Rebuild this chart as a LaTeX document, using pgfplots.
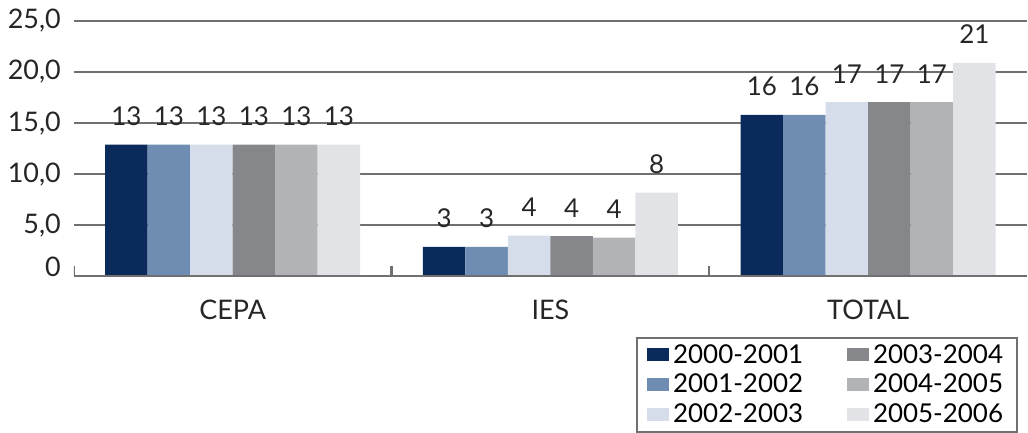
\documentclass[border=0pt]{standalone}
\usepackage{fontspec}
\setmainfont{Lato}
\usepackage{pgfplots}
\pgfplotsset{compat=1.18}

\definecolor{cA}{HTML}{0B2A5C}
\definecolor{cB}{HTML}{6F8DB3}
\definecolor{cC}{HTML}{D5DDEA}
\definecolor{cD}{HTML}{85878A}
\definecolor{cE}{HTML}{B1B3B6}
\definecolor{cF}{HTML}{E2E3E6}
\definecolor{gridc}{HTML}{707070}

\begin{document}
\begin{tikzpicture}
\begin{axis}[
  scale only axis,
  width=477.5pt, height=128pt,
  ybar=0pt, bar width=0.1338,
  xmin=-0.5, xmax=2.5, ymin=0, ymax=25,
  xtick={0,1,2}, xticklabels={CEPA,IES,TOTAL},
  ytick={0,5,10,15,20,25},
  yticklabels={\raisebox{10pt}{0},{5,0},{10,0},{15,0},{20,0},{25,0}},
  major tick length=0pt,
  axis line style={draw=none},
  ymajorgrids, grid style={gridc, line width=1pt},
  tick label style={font=\fontsize{13.5}{15}\selectfont, text=black!85},
  xticklabel style={yshift=-8pt},
  yticklabel style={xshift=-3pt},
  /pgf/number format/assume math mode=true,
  nodes near coords={\pgfmathprintnumber[fixed,precision=0]{\pgfplotspointmeta}},
  every node near coord/.append style={font=\fontsize{13}{15}\selectfont, text=black!85, yshift=6pt},
  legend columns=3, transpose legend,
  legend style={at={(axis description cs:0.9906,-0.238)}, anchor=north east,
    draw=gridc, line width=1pt, font=\fontsize{13}{15}\selectfont,
    inner xsep=5pt, inner ysep=1pt, row sep=0pt,
    /tikz/every even column/.append style={column sep=20pt}},
  legend image code/.code={\fill[#1] (0pt,-3pt) rectangle (11pt,3.5pt);},
  legend cell align=left,
]
\addplot[draw=none, fill=cA] coordinates {(0,12.9) (1,2.9) (2,15.8)};
\addlegendentry{2000-2001}
\addplot[draw=none, fill=cB] coordinates {(0,12.9) (1,2.9) (2,15.8)};
\addlegendentry{2001-2002}
\addplot[draw=none, fill=cC] coordinates {(0,12.9) (1,4.0) (2,17.05)};
\addlegendentry{2002-2003}
\addplot[draw=none, fill=cD] coordinates {(0,12.9) (1,3.95) (2,17.05)};
\addlegendentry{2003-2004}
\addplot[draw=none, fill=cE] coordinates {(0,12.9) (1,3.8) (2,17.05)};
\addlegendentry{2004-2005}
\addplot[draw=none, fill=cF] coordinates {(0,12.9) (1,8.2) (2,20.9)};
\addlegendentry{2005-2006}
\draw[gridc, line width=1.5pt] (axis cs:-0.5,0) -- (axis cs:2.5,0);
\draw[gridc, line width=1.2pt] (axis cs:-0.5,0) -- ++(0pt,5pt);
\draw[gridc, line width=1.2pt] (axis cs:0.5,0) -- ++(0pt,5pt);
\draw[gridc, line width=1.2pt] (axis cs:1.5,0) -- ++(0pt,5pt);
\end{axis}
\path[use as bounding box] (-37pt,-77.5pt) rectangle (477.5pt,138.5pt);
\end{tikzpicture}
\end{document}
